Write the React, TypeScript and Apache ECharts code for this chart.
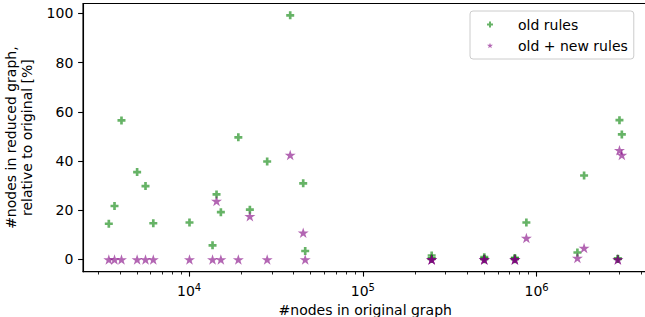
import React, { useEffect, useRef } from 'react';
import * as echarts from 'echarts';

// #nodes in original graph (x)
const nodesInOriginal = [
  3450, 3720, 4080, 5020, 5610, 6220, 10050, 13640, 14380, 15230, 19200, 22370, 28140, 38180, 45360, 46580,
  249000, 249000, 249000, 500000, 500000, 500000, 750000, 750000, 750000,
  873500, 1718000, 1877000, 2936000, 2936000, 3000000, 3096000,
];
// % nodes remaining, old rules
const oldRules = [
  14.5, 21.7, 56.5, 35.5, 29.8, 14.7, 15.0, 5.7, 26.4, 19.2, 49.6, 20.2, 39.8, 99.2, 30.9, 3.4,
  1.6, 0.4, 0.2, 0.9, 0.3, 0.1, 0.6, 0.3, 0.1,
  15.0, 2.8, 34.1, 0.3, 0.2, 56.6, 50.8,
];
// % nodes remaining, old + new rules
const oldPlusNewRules = [
  0, 0, 0, 0, 0, 0, 0, 0, 23.7, 0, 0, 17.5, 0, 42.4, 10.8, 0,
  0, 0, 0, 0, 0, 0, 0, 0, 0,
  8.7, 0.6, 4.6, 0, 0, 44.4, 42.4,
];

const seriesNames = ['old rules', 'old + new rules'];
const yTickValues = [0, 20, 40, 60, 80, 100];
const xMajorTicks = [1e4, 1e5, 1e6];
const xMinorTicks = [
  3e3, 4e3, 5e3, 6e3, 7e3, 8e3, 9e3,
  2e4, 3e4, 4e4, 5e4, 6e4, 7e4, 8e4, 9e4,
  2e5, 3e5, 4e5, 5e5, 6e5, 7e5, 8e5, 9e5,
  2e6, 3e6, 4e6,
];

const PLUS = 'path://M2,0H4V2H6V4H4V6H2V4H0V2H2Z';
const STAR =
  'path://M0,-1L0.2245,-0.309L0.9511,-0.309L0.3633,0.118L0.5878,0.809L0,0.382L-0.5878,0.809L-0.3633,0.118L-0.9511,-0.309L-0.2245,-0.309Z';

const FONT = 'DejaVu Sans';

export default function App() {
  const ref = useRef<HTMLDivElement>(null);

  useEffect(() => {
    if (!ref.current) return;
    const chart = echarts.init(ref.current, undefined, { renderer: 'svg' });
    const xMin = 2450;
    const xMax = 4.35e6;
    chart.setOption({
      animation: false,
      backgroundColor: '#ffffff',
      textStyle: { fontFamily: FONT },
      grid: {
        left: 83,
        right: -2.5,
        top: 3.5,
        bottom: 45.3,
        containLabel: false,
        outerBoundsMode: 'none',
        show: true,
        borderColor: '#000000',
        borderWidth: 1.1,
        backgroundColor: 'transparent',
      },
      legend: {
        orient: 'vertical',
        left: 470,
        top: 11,
        padding: [5.5, 6, 5.5, 17],
        itemGap: 5,
        itemWidth: 6,
        itemHeight: 6,
        backgroundColor: 'rgba(255,255,255,0.8)',
        borderColor: '#cccccc',
        borderWidth: 1,
        borderRadius: 3,
        textStyle: { fontSize: 14, fontFamily: FONT, color: '#000', padding: [0, 0, 0, 20], lineHeight: 16 },
        data: [
          { name: seriesNames[0], icon: PLUS, itemStyle: { color: 'green', opacity: 0.6 } },
          { name: seriesNames[1], icon: STAR, itemStyle: { color: 'purple', opacity: 0.6 } },
        ],
      },
      xAxis: [
        {
          type: 'log',
          logBase: 10,
          min: xMin,
          max: xMax,
          position: 'bottom',
          name: '#nodes in original graph',
          nameLocation: 'middle',
          nameGap: 31.5,
          nameTextStyle: { fontSize: 14, fontFamily: FONT, color: '#000' },
          axisLine: { show: true, onZero: false, lineStyle: { color: '#000', width: 1.1 } },
          axisTick: { show: true, length: 4.9, lineStyle: { color: '#000', width: 1.1 }, customValues: xMajorTicks },
          axisLabel: {
            show: true,
            margin: 10.5,
            customValues: xMajorTicks,
            color: '#000',
            formatter: (v: number) => `{base|10}{sup|${Math.round(Math.log10(v))}}`,
            rich: {
              base: { fontSize: 14, fontFamily: FONT, color: '#000', lineHeight: 18 },
              sup: { fontSize: 10, fontFamily: FONT, color: '#000', lineHeight: 10, verticalAlign: 'top' },
            },
          },
          splitLine: { show: false },
          minorTick: { show: false },
        },
        {
          type: 'log',
          logBase: 10,
          min: xMin,
          max: xMax,
          position: 'bottom',
          axisLine: { show: false, onZero: false },
          axisTick: { show: true, length: 2.8, lineStyle: { color: '#000', width: 0.85 }, customValues: xMinorTicks },
          axisLabel: { show: false },
          splitLine: { show: false },
        },
      ],
      yAxis: {
        type: 'value',
        min: -5,
        max: 104,
        name: '#nodes in reduced graph,\nrelative to original [%]',
        nameLocation: 'middle',
        nameGap: 38,
        nameTextStyle: { fontSize: 14, fontFamily: FONT, color: '#000', lineHeight: 16.5, align: 'center' },
        axisLine: { show: true, onZero: false, lineStyle: { color: '#000', width: 1.1 } },
        axisTick: { show: true, length: 4.9, lineStyle: { color: '#000', width: 1.1 }, customValues: yTickValues },
        axisLabel: { show: true, margin: 9.7, fontSize: 14, fontFamily: FONT, color: '#000', customValues: yTickValues },
        splitLine: { show: false },
      },
      series: [
        {
          name: seriesNames[0],
          type: 'scatter',
          xAxisIndex: 0,
          symbol: PLUS,
          symbolSize: 8,
          symbolKeepAspect: true,
          itemStyle: { color: 'green', opacity: 0.6 },
          data: nodesInOriginal.map((n, i) => [n, oldRules[i]]),
        },
        {
          name: seriesNames[1],
          type: 'scatter',
          xAxisIndex: 0,
          symbol: STAR,
          symbolSize: 11,
          symbolKeepAspect: true,
          itemStyle: { color: 'purple', opacity: 0.6 },
          data: nodesInOriginal.map((n, i) => [n, oldPlusNewRules[i]]),
        },
      ],
    });
    return () => chart.dispose();
  }, []);

  return (
    <div
      ref={ref}
      style={{ position: 'fixed', left: 0, top: 0, width: 645, height: 317, overflow: 'hidden', background: '#fff' }}
    />
  );
}
